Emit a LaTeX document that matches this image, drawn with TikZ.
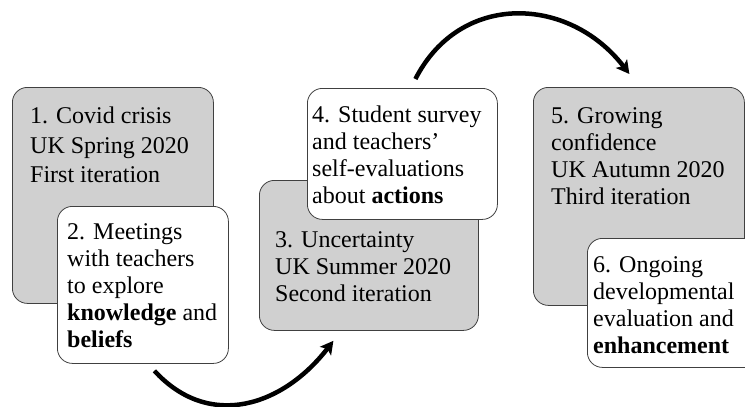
\documentclass[tikz,border=0pt]{standalone}
\usepackage{fontspec}
\setmainfont{Liberation Serif}
\usetikzlibrary{arrows.meta}

\definecolor{boxgray}{RGB}{208,208,208}
\definecolor{boxline}{RGB}{64,64,64}

\tikzset{
    phasebox/.style={draw=boxline, line width=0.8pt, rounded corners=15pt, anchor=north west, inner sep=0pt},
    graybox/.style={phasebox, fill=boxgray},
    whitebox/.style={phasebox, fill=white},
    boxtext/.style={anchor=north west, inner sep=0pt, align=left, font=\fontsize{24}{27}\selectfont},
    widetext/.style={boxtext, font=\fontsize{24}{29.5}\selectfont},
    cyclearrow/.style={line width=4.5pt, -{Stealth[length=13pt, width=14pt, inset=3pt]}}
}

\begin{document}
\begin{tikzpicture}[x=1pt, y=-1pt]
    \useasboundingbox (0,0) rectangle (745,407);

    % first iteration
    \node[graybox, minimum width=201pt, minimum height=216pt] (crisis) at (12,87) {};
    \node[widetext] (crisistext) at (30,107) {1. Covid crisis\\UK Spring 2020\\First iteration};
    \node[whitebox, minimum width=171pt, minimum height=157pt] (meetings) at (57,206) {};
    \node[boxtext] (meetingstext) at (67,223) {2. Meetings\\with teachers\\to explore\\\textbf{knowledge} and\\\textbf{beliefs}};

    % second iteration
    \node[graybox, minimum width=219pt, minimum height=150pt] (uncertainty) at (259,180) {};
    \node[boxtext] (uncertaintytext) at (275,231) {3. Uncertainty\\UK Summer 2020\\Second iteration};
    \node[whitebox, minimum width=190pt, minimum height=131pt] (survey) at (307,88) {};
    \node[boxtext] (surveytext) at (312,106) {4. Student survey\\and teachers'\\self-evaluations\\about \textbf{actions}};

    % third iteration
    \node[graybox, minimum width=211pt, minimum height=218pt] (confidence) at (533,87) {};
    \node[boxtext] (confidencetext) at (551,107) {5. Growing\\confidence\\UK Autumn 2020\\Third iteration};
    \node[whitebox, minimum width=175pt, minimum height=129pt] (ongoing) at (587,238) {};
    \node[boxtext] (ongoingtext) at (593,256) {6. Ongoing\\developmental\\evaluation and\\\textbf{enhancement}};

    % arrows between the iterations
    \draw[cyclearrow] ([xshift=11.5pt, yshift=-7pt]meetings.south) .. controls +(55,60) and +(-50,65) .. ([xshift=-35.5pt, yshift=-10pt]uncertainty.south);
    \draw[cyclearrow] ([xshift=13pt, yshift=9pt]survey.north) .. controls +(45,-88) and +(-60,-78) .. ([xshift=-9.5pt, yshift=13pt]confidence.north);

\end{tikzpicture}
\end{document}
